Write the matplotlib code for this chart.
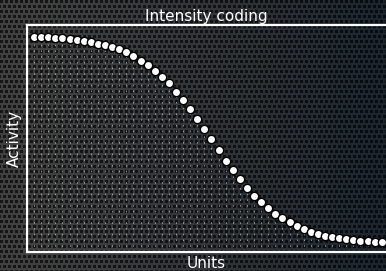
import numpy as np
import matplotlib
matplotlib.use('Agg')
import matplotlib.pyplot as plt

# values
units = np.arange(50)
activity = [0.999, 0.998, 0.996, 0.994, 0.991, 0.988, 0.983, 0.978, 0.972, 0.965,
            0.959, 0.949, 0.938, 0.924, 0.906, 0.883, 0.861, 0.834, 0.806, 0.774,
            0.734, 0.694, 0.649, 0.601, 0.553, 0.505, 0.453, 0.401, 0.357, 0.312,
            0.268, 0.231, 0.199, 0.173, 0.145, 0.122, 0.103, 0.087, 0.072, 0.058,
            0.048, 0.039, 0.030, 0.026, 0.021, 0.018, 0.014, 0.011, 0.008, 0.006]
title = 'Intensity coding'
xlabel = 'Units'
ylabel = 'Activity'

W, H = 386, 271
fig = plt.figure(figsize=(W / 100, H / 100), dpi=100)

# textured dark background, grey on the left fading to dark blue on the right
yy, xx = np.mgrid[0:H, 0:W]
cell = 5
shift = (yy // cell % 2) * 2
dark = ((xx + shift) % cell < 3) & (yy % cell < 3)
t = (xx / W) ** 1.4
light_l, light_r = np.array([66, 66, 66]), np.array([28, 37, 46])
dark_l, dark_r = np.array([22, 22, 22]), np.array([8, 11, 15])
light = light_l + (light_r - light_l) * t[..., None]
darkc = dark_l + (dark_r - dark_l) * t[..., None]
img = np.where(dark[..., None], darkc, light) / 255.0
bg = fig.add_axes([0, 0, 1, 1])
bg.imshow(img, aspect='auto', interpolation='nearest')
bg.axis('off')

ax = fig.add_axes([27 / W, 19 / H, 1 - 27 / W, 227 / H])
ax.patch.set_alpha(0)
ymin = -0.04
ax.set_xlim(-1, 49.6)
ax.set_ylim(ymin, 1.055)

ax.vlines(units, ymin, activity, colors='white', linestyles=(0, (1.5, 4)),
          lw=0.75, alpha=0.5)
ax.plot(units, activity, 'o', ms=6, mfc='white', mec='black', mew=1, zorder=3,
        clip_on=False)

for s in ['left', 'bottom', 'top']:
    ax.spines[s].set_color('white')
    ax.spines[s].set_linewidth(1.6)
ax.spines['right'].set_visible(False)
ax.set_xticks([])
ax.set_yticks([])
ax.set_title(title, color='white', fontsize=11, pad=3)
ax.set_xlabel(xlabel, color='white', fontsize=11, labelpad=3)
ax.set_ylabel(ylabel, color='white', fontsize=11, labelpad=4)

fig.savefig('out.png', dpi=100)
